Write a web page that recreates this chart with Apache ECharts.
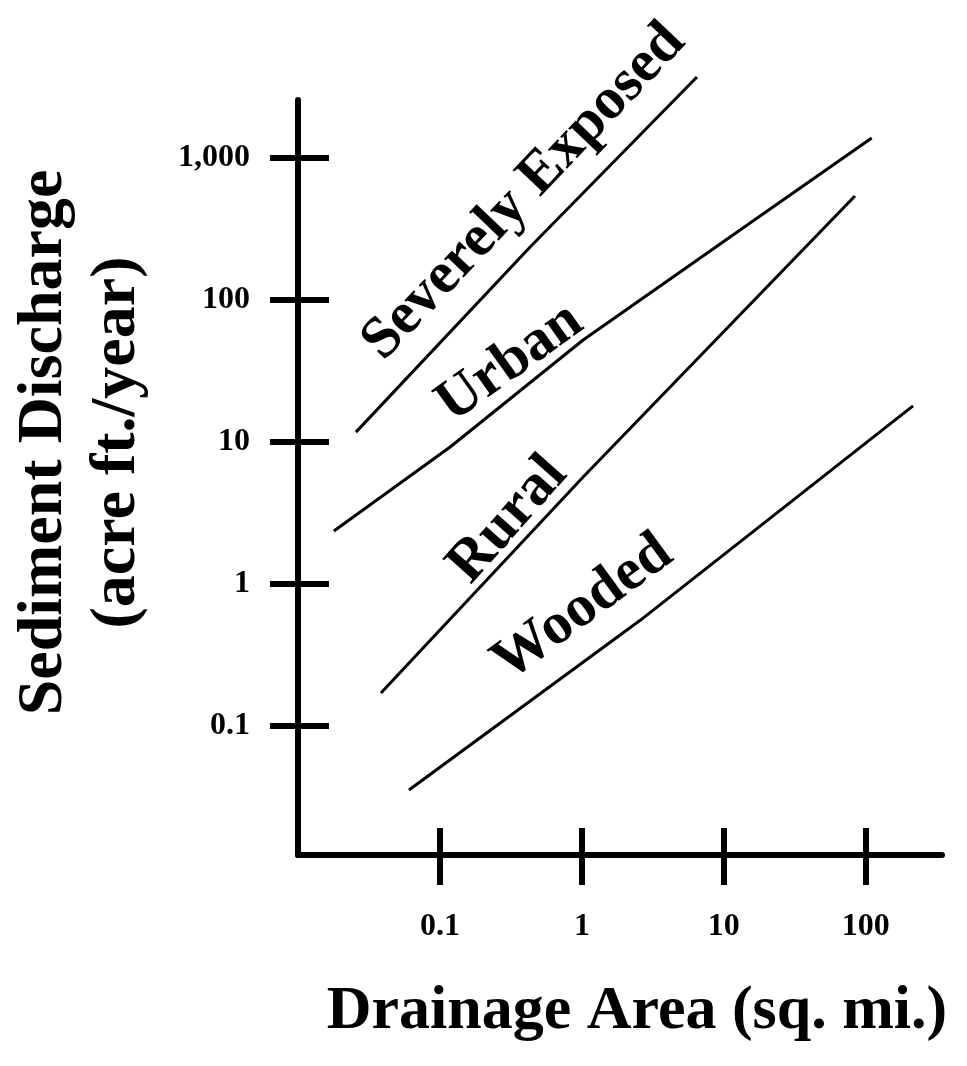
<!DOCTYPE html>
<html><head><meta charset="utf-8">
<script src="https://cdn.jsdelivr.net/npm/echarts@6/dist/echarts.min.js"></script>
<style>html,body{margin:0;padding:0;background:#fff}#c{width:967px;height:1066px}</style>
</head><body><div id="c"></div>
<script>
// ---- data ----
const xTickValues = [0.1, 1, 10, 100];
const xTickLabels = ['0.1', '1', '10', '100'];
const yTickValues = [0.1, 1, 10, 100, 1000];
const yTickLabels = ['0.1', '1', '10', '100', '1,000'];
const seriesNames = ['Severely Exposed', 'Urban', 'Rural', 'Wooded'];
const severelyExposed = [[0.0256, 11.7], [0.43, 235], [6.46, 3720]];
const urban = [[0.0179, 2.35], [0.118, 9.19], [1.02, 52.2], [15.3, 348], [110, 1383]];
const rural = [[0.0384, 0.170], [1.02, 5.65], [83.8, 540]];
const wooded = [[0.0605, 0.0352], [2.56, 0.550], [215, 17.9]];
const xRange = [0.01, 344];
const yRange = [0.01225, 2564];
const xTitle = 'Drainage Area (sq. mi.)';
const yTitle = 'Sediment Discharge\n(acre ft./year)';

// ---- chart ----
const FONT = '"Liberation Serif", "Times New Roman", serif';
const chart = echarts.init(document.getElementById('c'), null, {renderer: 'canvas'});
function fmt(values, labels) {
  return v => {
    for (let i = 0; i < values.length; i++) {
      if (Math.abs(Math.log10(v) - Math.log10(values[i])) < 1e-6) return labels[i];
    }
    return '';
  };
}
const lineStyle = {color: '#000', width: 3};
const mkSeries = (name, data) => ({
  name, type: 'line', data, symbol: 'none', clip: false, silent: true,
  lineStyle, xAxisIndex: 0, yAxisIndex: 0, animation: false
});
const labelStyle = (text, x, y, deg) => ({
  type: 'text', x, y, rotation: deg * Math.PI / 180, silent: true,
  style: {text, fontFamily: FONT, fontWeight: 'bold', fontSize: 59, fill: '#000',
          align: 'center', verticalAlign: 'middle'}
});
const baseX = {
  type: 'log', logBase: 10, min: xRange[0], max: xRange[1], position: 'bottom',
  splitLine: {show: false}, minorTick: {show: false}, minorSplitLine: {show: false}
};
const baseY = {
  type: 'log', logBase: 10, min: yRange[0], max: yRange[1], position: 'left',
  splitLine: {show: false}, minorTick: {show: false}, minorSplitLine: {show: false}
};
chart.setOption({
  backgroundColor: '#fff',
  animation: false,
  grid: {left: 298, top: 100, width: 644, height: 755, containLabel: false, outerBoundsMode: 'none'},
  xAxis: [
    Object.assign({}, baseX, {
      axisLine: {show: true, lineStyle: {color: '#000', width: 6, cap: 'round'}},
      axisTick: {show: true, inside: false, length: 30, customValues: xTickValues,
                 lineStyle: {color: '#000', width: 6}},
      axisLabel: {show: true, customValues: xTickValues, formatter: fmt(xTickValues, xTickLabels),
                  margin: 56, color: '#000', fontFamily: FONT, fontWeight: 'bold', fontSize: 32},
      name: xTitle, nameLocation: 'middle', nameGap: 126,
      nameTextStyle: {color: '#000', fontFamily: FONT, fontWeight: 'bold', fontSize: 62,
                      padding: [0, 0, 0, 34]}
    }),
    Object.assign({}, baseX, {
      axisLine: {show: false},
      axisTick: {show: true, inside: true, length: 27, customValues: xTickValues,
                 lineStyle: {color: '#000', width: 6}},
      axisLabel: {show: false}
    })
  ],
  yAxis: [
    Object.assign({}, baseY, {
      axisLine: {show: true, lineStyle: {color: '#000', width: 6, cap: 'round'}},
      axisTick: {show: true, inside: false, length: 28, customValues: yTickValues,
                 lineStyle: {color: '#000', width: 6}},
      axisLabel: {show: true, customValues: yTickValues, formatter: fmt(yTickValues, yTickLabels),
                  margin: 48, color: '#000', fontFamily: FONT, fontWeight: 'bold', fontSize: 32},
      name: yTitle, nameLocation: 'middle', nameGap: 144,
      nameTextStyle: {color: '#000', fontFamily: FONT, fontWeight: 'bold', fontSize: 64,
                      lineHeight: 73, padding: [0, 0, 0, 70]}
    }),
    Object.assign({}, baseY, {
      axisLine: {show: false},
      axisTick: {show: true, inside: true, length: 31, customValues: yTickValues,
                 lineStyle: {color: '#000', width: 6}},
      axisLabel: {show: false}
    })
  ],
  series: [
    mkSeries(seriesNames[0], severelyExposed),
    mkSeries(seriesNames[1], urban),
    mkSeries(seriesNames[2], rural),
    mkSeries(seriesNames[3], wooded)
  ],
  graphic: [
    labelStyle(seriesNames[0], 524, 192, 46.4),
    labelStyle(seriesNames[1], 510, 363, 35.6),
    labelStyle(seriesNames[2], 508, 520, 48.5),
    labelStyle(seriesNames[3], 583, 608, 36.3)
  ]
});
</script>
</body></html>
